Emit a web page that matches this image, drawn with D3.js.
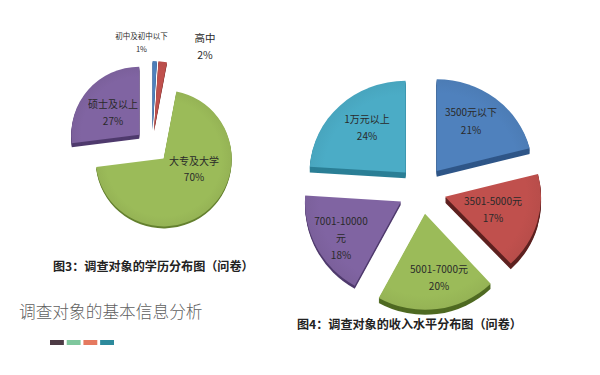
<!DOCTYPE html>
<html><head><meta charset="utf-8">
<script src="https://cdn.jsdelivr.net/npm/d3@7"></script>
<style>html,body{margin:0;padding:0;background:#fff}svg{display:block}text{font-family:"Noto Sans CJK SC","Noto Sans",sans-serif;text-spacing-trim:space-all}</style>
</head><body><svg id="c" width="600" height="375"></svg>
<script>
// Data
const eduCategories = ["初中及初中以下", "高中", "大专及大学", "硕士及以上"];
const eduValues = [1, 2, 70, 27];
const incomeCategories = ["3500元以下", "3501-5000元", "5001-7000元", "7001-10000元", "1万元以上"];
const incomeValues = [21, 17, 20, 18, 24];
const footerSwatches = ["a", "b", "c", "d"];

// Styles
const eduColors = ["#4f81bd", "#c0504d", "#9bbb59", "#8064a2"];
const eduSides = ["#2f5688", "#7e2f2c", "#64802f", "#4f3a6d"];
const incomeColors = ["#4f81bd", "#c0504d", "#9bbb59", "#8064a2", "#4bacc6"];
const incomeSides = ["#2f5688", "#5e2220", "#4f6a22", "#4f3a6d", "#2b7f96"];
const swatchColors = ["#4d3b45", "#7fc79d", "#e5795f", "#2d8a9c"];

const svg = d3.select("#c");
const defs = svg.append("defs");

function gradient(id, color, r) {
  const g = defs.append("radialGradient").attr("id", id).attr("gradientUnits", "userSpaceOnUse")
    .attr("cx", 0).attr("cy", 0).attr("r", r);
  g.append("stop").attr("offset", "0%").attr("stop-color", color);
  g.append("stop").attr("offset", "85%").attr("stop-color", color);
  g.append("stop").attr("offset", "100%").attr("stop-color", d3.color(color).darker(0.12));
}

function drawPie(o) {
  const slices = d3.pie().sort(null)(o.values);
  const arc = d3.arc().innerRadius(0).outerRadius(o.r);
  const root = svg.append("g");
  slices.forEach((s, i) => {
    const mid = (s.startAngle + s.endAngle) / 2;
    const x = o.cx + o.explode * Math.sin(mid);
    const y = o.cy - o.explode * Math.cos(mid);
    const id = o.name + i;
    gradient(id, o.colors[i], o.r);
    const g = root.append("g").attr("transform", `translate(${x},${y}) scale(1,${o.squash[i]})`);
    g.selectAll("path.side").data(d3.range(o.depth[i], 0, -1)).join("path")
      .attr("class", "side").attr("d", arc(s)).attr("fill", o.sides[i])
      .attr("transform", d => `translate(0,${d})`);
    g.append("path").attr("d", arc(s)).attr("fill", `url(#${id})`);
  });
}

drawPie({ name: "edu", values: eduValues, colors: eduColors, sides: eduSides,
  cx: 152, cy: 146, r: 68, explode: 17, depth: [2, 2, 2, 4], squash: [1, 1, 1, 1] });
drawPie({ name: "inc", values: incomeValues, colors: incomeColors, sides: incomeSides,
  cx: 422, cy: 190, r: 96, explode: 24, depth: [6, 6, 5, 3, 6], squash: [0.955, 0.955, 1, 1, 0.955] });

// Labels: [lines, x, first-line y, line step, font size]
const labelLayout = [
  [[eduCategories[0], eduValues[0] + "%"], 141.5, 36, 13, 7.5],
  [[eduCategories[1], eduValues[1] + "%"], 205, 38, 17, 10.5],
  [[eduCategories[3], eduValues[3] + "%"], 113, 104, 17, 10],
  [[eduCategories[2], eduValues[2] + "%"], 194, 161, 16, 10],
  [[incomeCategories[4], incomeValues[4] + "%"], 367, 119, 17, 10],
  [[incomeCategories[0], incomeValues[0] + "%"], 471, 112, 18, 10],
  [[incomeCategories[1], incomeValues[1] + "%"], 493, 201, 17, 10],
  [[incomeCategories[2], incomeValues[2] + "%"], 439, 269, 17, 10],
  [["7001-10000", "元", incomeValues[3] + "%"], 341, 221, 17, 10]
];
svg.append("g").selectAll("text").data(labelLayout).join("text")
  .attr("text-anchor", "middle").attr("fill", "#2a2a2a")
  .attr("font-size", d => d[4])
  .each(function (d) {
    d3.select(this).selectAll("tspan").data(d[0]).join("tspan")
      .attr("x", d[1]).attr("y", (t, i) => d[2] + i * d[3])
      .attr("dy", "0.35em").text(t => t);
  });

// Titles
svg.append("text").attr("x", 53).attr("y", 267).attr("dy", "0.35em").attr("font-size", 12.1)
  .attr("font-weight", 700).attr("fill", "#222").text("图3：调查对象的学历分布图（问卷）");
svg.append("text").attr("x", 297).attr("y", 325).attr("dy", "0.35em").attr("font-size", 12.1)
  .attr("font-weight", 700).attr("fill", "#222").text("图4：调查对象的收入水平分布图（问卷）");
svg.append("text").attr("x", 19).attr("y", 312).attr("dy", "0.35em").attr("font-size", 16.7)
  .attr("font-weight", 300).attr("fill", "#5f5f5f").text("调查对象的基本信息分析");

// Footer swatches
const swatchX = d3.scaleBand().domain(footerSwatches).range([50, 114]).paddingInner(0.17);
svg.append("g").selectAll("rect").data(footerSwatches).join("rect")
  .attr("x", d => swatchX(d)).attr("y", 340).attr("width", swatchX.bandwidth()).attr("height", 5)
  .attr("fill", (d, i) => swatchColors[i]);
</script></body></html>
